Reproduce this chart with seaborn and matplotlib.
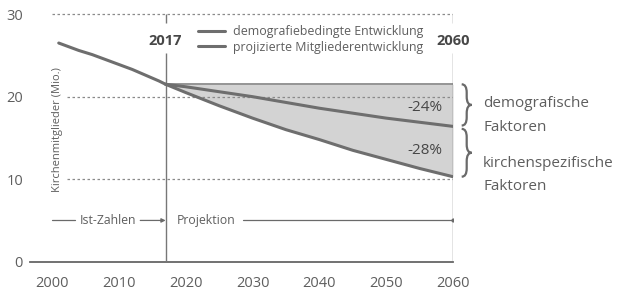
import numpy as np
import pandas as pd
import matplotlib
matplotlib.use("Agg")
import matplotlib.pyplot as plt
from matplotlib.path import Path
from matplotlib.patches import PathPatch
import seaborn as sns

# Ist-Zahlen (Mio.)
hist_years = [2001, 2002, 2003, 2004, 2005, 2006, 2007, 2008, 2009,
              2010, 2011, 2012, 2013, 2014, 2015, 2016, 2017]
hist_values = [26.5, 26.2, 25.9, 25.6, 25.35, 25.1, 24.8, 24.5, 24.2,
               23.9, 23.6, 23.3, 22.95, 22.6, 22.25, 21.9, 21.5]

# Projektion
proj_years = [2017, 2020, 2025, 2030, 2035, 2040, 2045, 2050, 2055, 2060]
demo_values = [21.5, 21.2, 20.6, 20.0, 19.3, 18.6, 18.0, 17.4, 16.9, 16.4]
proj_values = [21.5, 20.5, 18.9, 17.4, 16.0, 14.8, 13.5, 12.4, 11.3, 10.3]

legend_labels = ["demografiebedingte Entwicklung", "projizierte Mitgliederentwicklung"]
pct_labels = ["-24%", "-28%"]
factor_labels = ["demografische\nFaktoren", "kirchenspezifische\nFaktoren"]
x_ticks = [2000, 2010, 2020, 2030, 2040, 2050, 2060]
y_ticks = [0, 10, 20, 30]

sns.set_style("white")
plt.rcParams['font.family'] = ['Open Sans', 'DejaVu Sans']

line_c = "#6e6e6e"
text_c = "#5e5e5e"
dark_c = "#474747"

fig = plt.figure(figsize=(6.18, 2.93), dpi=100)
ax = fig.add_axes([30 / 618, 31.3 / 293, 423 / 618, 255.8 / 293])

hist = pd.DataFrame({"Jahr": hist_years, "Mio": hist_values})
demo = pd.DataFrame({"Jahr": proj_years, "Mio": demo_values})
proj = pd.DataFrame({"Jahr": proj_years, "Mio": proj_values})
start = proj_values[0]

# shaded band between 2017 level and projection
ax.fill_between(proj_years, [start] * len(proj_years), proj_values,
                color="#d3d3d3", lw=0, zorder=1)
ax.hlines(start, proj_years[0], proj_years[-1], color="#8c8c8c", lw=1.3, zorder=3)

# dotted gridlines
for v in y_ticks[1:]:
    ax.hlines(v, x_ticks[0], x_ticks[-1], color="#8a8a8a", lw=0.9,
              linestyles=(0, (2, 2)), zorder=2)

sns.lineplot(data=hist, x="Jahr", y="Mio", color=line_c, lw=2.2, ax=ax, zorder=4)
sns.lineplot(data=demo, x="Jahr", y="Mio", color=line_c, lw=2.2, ax=ax, zorder=4,
             label=legend_labels[0])
sns.lineplot(data=proj, x="Jahr", y="Mio", color=line_c, lw=2.2, ax=ax, zorder=4,
             label=legend_labels[1])

# vertical markers 2017 / 2060 with bold labels
for yr in [proj_years[0], proj_years[-1]]:
    ax.vlines(yr, 0, 25.3, color="#777777", lw=1.0, zorder=3)
    ax.vlines(yr, 28.9, 30, color="#777777", lw=1.0, zorder=3)
    ax.text(yr, 26.8, str(yr), ha="center", va="center", fontsize=10.5,
            fontweight="bold", color=dark_c)

# percentages
ax.text(2055.8, 18.7, pct_labels[0], ha="center", va="center", fontsize=11, color=dark_c, zorder=5)
ax.text(2055.8, 13.5, pct_labels[1], ha="center", va="center", fontsize=11, color=dark_c, zorder=5)


def brace(x0, ylo, yhi, w, r):
    ym = (ylo + yhi) / 2
    xm = x0 + w / 2
    verts = [(x0, yhi), (xm, yhi), (xm, yhi - r),
             (xm, ym + r), (xm, ym), (x0 + w, ym),
             (xm, ym), (xm, ym - r),
             (xm, ylo + r), (xm, ylo), (x0, ylo)]
    codes = [Path.MOVETO, Path.CURVE3, Path.CURVE3,
             Path.LINETO, Path.CURVE3, Path.CURVE3,
             Path.CURVE3, Path.CURVE3,
             Path.LINETO, Path.CURVE3, Path.CURVE3]
    ax.add_patch(PathPatch(Path(verts, codes), fill=False, ec="#6a6a6a",
                           lw=1.6, clip_on=False))


brace(2061.3, demo_values[-1] + 0.1, start, 1.5, 1.0)
brace(2061.3, proj_values[-1], demo_values[-1] - 0.3, 1.5, 1.0)
ax.text(2064.5, 17.7, factor_labels[0], ha="left", va="center",
        fontsize=11, color=text_c, linespacing=1.8, clip_on=False)
ax.text(2064.5, 10.5, factor_labels[1], ha="left",
        va="center", fontsize=11, color=text_c, linespacing=1.8, clip_on=False)

# Ist-Zahlen / Projektion row
ax.plot([2000, 2003.4], [5, 5], color="#6a6a6a", lw=0.9)
ax.text(2008.3, 5, "Ist-Zahlen", ha="center", va="center", fontsize=8.8, color=text_c)
ax.annotate("", xy=(2017, 5), xytext=(2013.2, 5),
            arrowprops=dict(arrowstyle="-|>", color="#6a6a6a", lw=0.9,
                            mutation_scale=6, shrinkA=0, shrinkB=0))
ax.text(2018.7, 5, "Projektion", ha="left", va="center", fontsize=8.8, color=text_c)
ax.plot([2028.6, 2060], [5, 5], color="#6a6a6a", lw=0.9)
ax.plot([2060], [5], "o", color="#6a6a6a", ms=2)

# y label with white background over gridlines
ax.text(2000.8, 16.0, "Kirchenmitglieder (Mio.)", rotation=90, ha="center", va="center",
        fontsize=8, color=text_c, zorder=3,
        bbox=dict(boxstyle="square,pad=0.15", fc="white", ec="none"))

leg = ax.legend(loc="upper left", bbox_to_anchor=(0.397, 0.925), frameon=False,
                fontsize=8.9, handlelength=2.2, handletextpad=0.6, labelspacing=0.2,
                borderpad=0, borderaxespad=0)
for t in leg.get_texts():
    t.set_color(text_c)

ax.set_xlim(1996.7, 2060)
ax.set_ylim(0, 31)
ax.set_xticks(x_ticks)
ax.set_yticks(y_ticks)
ax.set_xlabel("")
ax.set_ylabel("")
for s in ["top", "right", "left"]:
    ax.spines[s].set_visible(False)
ax.spines["bottom"].set_color("#666666")
ax.spines["bottom"].set_linewidth(1.3)
ax.tick_params(axis="x", direction="inout", length=14, width=1.0, color="#666666",
               labelsize=10.5, labelcolor=text_c, pad=3)
ax.tick_params(axis="y", direction="in", length=12, width=1.2, color="#666666",
               labelsize=10.5, labelcolor=text_c, pad=5)
for tk in ax.yaxis.get_major_ticks():
    tk.tick1line.set_xdata([0.005])

fig.savefig("out.png", dpi=100)
